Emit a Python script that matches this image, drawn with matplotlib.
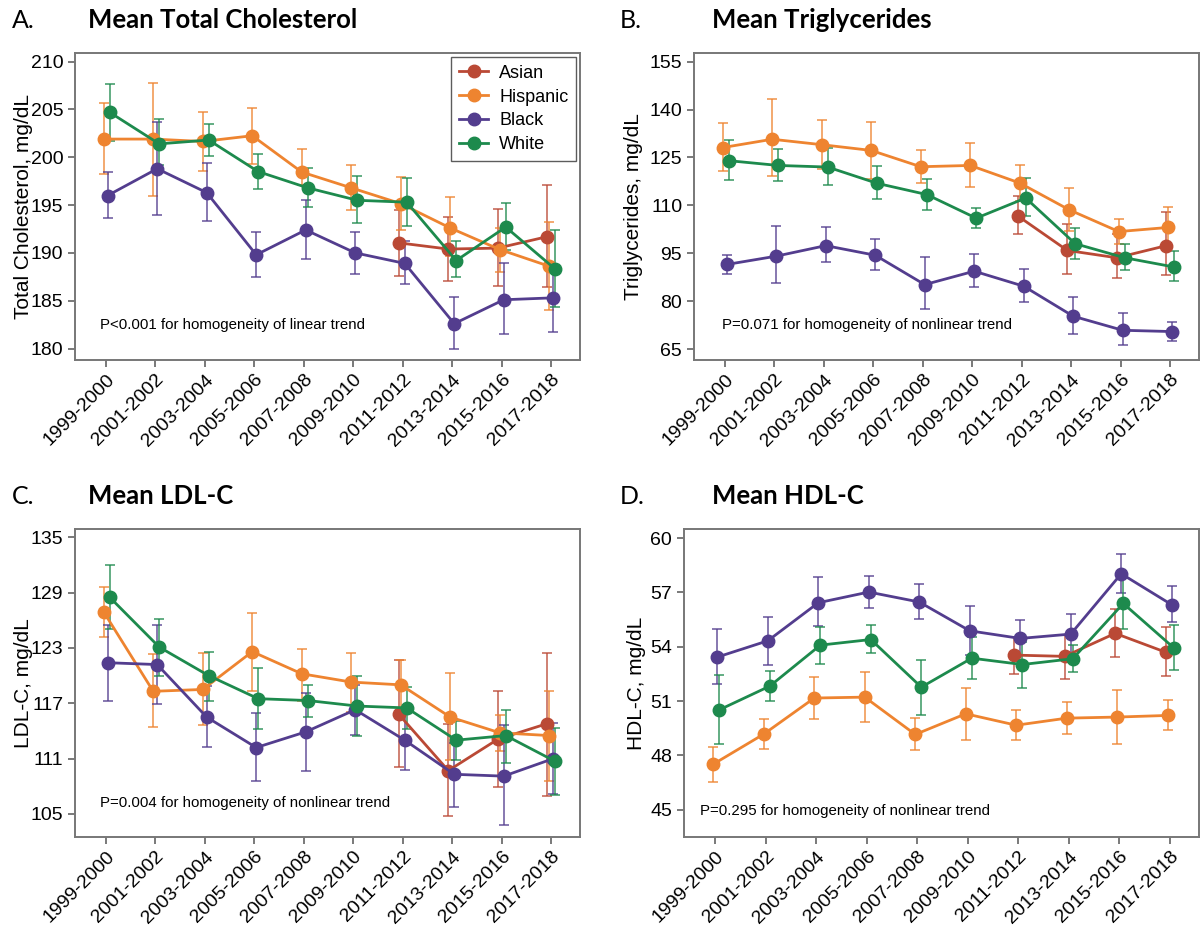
import numpy as np
import matplotlib
matplotlib.use("Agg")
import matplotlib.pyplot as plt

nan = np.nan
periods = ["1999-2000", "2001-2002", "2003-2004", "2005-2006", "2007-2008",
           "2009-2010", "2011-2012", "2013-2014", "2015-2016", "2017-2018"]
groups = ["Asian", "Hispanic", "Black", "White"]
colors = {"Asian": "#BA4935", "Hispanic": "#EE8430", "Black": "#533D8E", "White": "#1D8A4D"}
offsets = {"Asian": -0.08, "Hispanic": -0.04, "Black": 0.04, "White": 0.08}

# ---------------- A. Total cholesterol ----------------
tc_mean = {
    "Asian":    [nan]*6 + [191.05, 190.4, 190.5, 191.7],
    "Hispanic": [201.9, 201.9, 201.65, 202.25, 198.45, 196.8, 195.15, 192.6, 190.35, 188.6],
    "Black":    [196.0, 198.8, 196.3, 189.8, 192.4, 190.0, 188.9, 182.6, 185.1, 185.3],
    "White":    [204.7, 201.4, 201.8, 198.5, 196.8, 195.5, 195.3, 189.2, 192.7, 188.3],
}
tc_lo = {
    "Asian":    [nan]*6 + [187.6, 187.1, 186.5, 186.4],
    "Hispanic": [198.2, 196.0, 198.6, 199.3, 197.1, 194.5, 192.4, 189.7, 188.0, 184.0],
    "Black":    [193.6, 194.0, 193.3, 187.5, 189.4, 187.8, 186.7, 179.9, 181.5, 181.7],
    "White":    [201.7, 199.2, 200.1, 196.7, 194.8, 193.1, 192.8, 187.5, 190.3, 184.3],
}
tc_hi = {
    "Asian":    [nan]*6 + [194.5, 193.7, 194.6, 197.1],
    "Hispanic": [205.65, 207.8, 204.7, 205.2, 200.9, 199.2, 197.9, 195.8, 192.6, 193.2],
    "Black":    [198.5, 203.7, 199.4, 192.2, 195.5, 192.2, 191.2, 185.4, 188.9, 188.8],
    "White":    [207.7, 204.0, 203.5, 200.3, 198.9, 198.0, 197.8, 191.2, 195.2, 192.4],
}

# ---------------- B. Triglycerides ----------------
tg_mean = {
    "Asian":    [nan]*6 + [106.7, 95.9, 93.6, 97.4],
    "Hispanic": [128.1, 130.7, 129.0, 127.2, 122.1, 122.5, 117.0, 108.6, 101.8, 103.1],
    "Black":    [91.5, 94.1, 97.4, 94.4, 85.2, 89.4, 84.7, 75.3, 70.9, 70.5],
    "White":    [124.0, 122.5, 122.0, 116.9, 113.4, 106.0, 112.3, 98.0, 93.6, 90.7],
}
tg_lo = {
    "Asian":    [nan]*6 + [100.9, 88.6, 87.3, 88.2],
    "Hispanic": [120.7, 119.1, 121.3, 118.2, 117.1, 115.8, 111.4, 102.1, 98.0, 96.9],
    "Black":    [88.5, 85.8, 92.2, 89.7, 77.5, 84.4, 79.8, 69.8, 66.3, 67.6],
    "White":    [118.0, 117.7, 116.5, 111.9, 108.5, 102.9, 106.7, 93.3, 89.8, 86.2],
}
tg_hi = {
    "Asian":    [nan]*6 + [113.0, 104.1, 101.0, 107.9],
    "Hispanic": [135.8, 143.3, 136.7, 136.2, 127.4, 129.5, 122.7, 115.3, 105.7, 109.4],
    "Black":    [94.6, 103.6, 103.1, 99.4, 93.9, 94.7, 90.0, 81.3, 76.3, 73.6],
    "White":    [130.5, 127.6, 128.1, 122.4, 118.4, 109.3, 118.5, 102.8, 97.8, 95.7],
}

# ---------------- C. LDL-C ----------------
ldl_mean = {
    "Asian":    [nan]*6 + [115.8, 109.7, 113.1, 114.8],
    "Hispanic": [126.9, 118.3, 118.5, 122.6, 120.2, 119.3, 119.0, 115.5, 113.8, 113.5],
    "Black":    [121.4, 121.2, 115.5, 112.2, 113.9, 116.3, 113.0, 109.3, 109.1, 111.0],
    "White":    [128.5, 123.1, 120.0, 117.5, 117.3, 116.7, 116.5, 113.0, 113.5, 110.7],
}
ldl_lo = {
    "Asian":    [nan]*6 + [110.1, 104.8, 107.9, 107.0],
    "Hispanic": [124.2, 114.4, 114.6, 118.3, 117.3, 116.1, 116.2, 110.8, 111.8, 108.6],
    "Black":    [117.3, 116.9, 112.3, 108.6, 109.7, 113.6, 109.8, 105.7, 103.8, 107.2],
    "White":    [125.1, 120.0, 117.3, 114.2, 115.5, 113.4, 114.2, 110.9, 110.5, 107.1],
}
ldl_hi = {
    "Asian":    [nan]*6 + [121.7, 114.7, 118.3, 122.5],
    "Hispanic": [129.65, 122.3, 122.5, 126.8, 122.9, 122.5, 121.7, 120.3, 115.7, 118.3],
    "Black":    [125.5, 125.5, 118.9, 116.0, 118.1, 119.0, 116.1, 112.7, 114.6, 114.9],
    "White":    [132.0, 126.1, 122.6, 120.8, 119.0, 120.0, 118.8, 115.1, 116.3, 114.3],
}

# ---------------- D. HDL-C ----------------
hdl_mean = {
    "Asian":    [nan]*6 + [53.54, 53.47, 54.74, 53.70],
    "Hispanic": [47.52, 49.18, 51.17, 51.22, 49.16, 50.30, 49.67, 50.06, 50.12, 50.21],
    "Black":    [53.43, 54.33, 56.43, 57.02, 56.47, 54.88, 54.46, 54.70, 58.03, 56.32],
    "White":    [50.52, 51.83, 54.09, 54.40, 51.77, 53.37, 53.02, 53.34, 56.39, 53.94],
}
hdl_lo = {
    "Asian":    [nan]*6 + [52.49, 52.21, 53.41, 52.40],
    "Hispanic": [46.55, 48.33, 50.01, 49.84, 48.28, 48.88, 48.83, 49.16, 48.63, 49.38],
    "Black":    [51.96, 53.00, 55.12, 56.15, 55.51, 53.56, 53.52, 53.56, 56.98, 55.34],
    "White":    [48.61, 51.00, 53.04, 53.63, 50.26, 52.23, 51.75, 52.62, 54.96, 52.71],
}
hdl_hi = {
    "Asian":    [nan]*6 + [54.55, 54.64, 56.10, 55.07],
    "Hispanic": [48.48, 50.02, 52.31, 52.62, 50.06, 51.70, 50.52, 50.96, 51.61, 51.07],
    "Black":    [54.96, 55.66, 57.86, 57.88, 57.44, 56.25, 55.45, 55.80, 59.10, 57.33],
    "White":    [52.42, 52.66, 55.10, 55.21, 53.28, 54.52, 54.29, 54.07, 57.86, 55.20],
}

panels = [
    dict(letter="A.", title="Mean Total Cholesterol", ylabel="Total Cholesterol, mg/dL",
         mean=tc_mean, lo=tc_lo, hi=tc_hi, ylim=(178.8, 210.9), yticks=[180, 185, 190, 195, 200, 205, 210],
         note="P<0.001 for homogeneity of linear trend", note_xy=(0.05, 0.115),
         rect=(75, 53, 580, 360), legend=True, lab_x=-0.083, title_x=(12, 88)),
    dict(letter="B.", title="Mean Triglycerides", ylabel="Triglycerides, mg/dL",
         mean=tg_mean, lo=tg_lo, hi=tg_hi, ylim=(61.6, 157.7), yticks=[65, 80, 95, 110, 125, 140, 155],
         note="P=0.071 for homogeneity of nonlinear trend", note_xy=(0.056, 0.115),
         rect=(694, 53, 1199, 360), legend=False, lab_x=-0.1, title_x=(620, 712)),
    dict(letter="C.", title="Mean LDL-C", ylabel="LDL-C, mg/dL",
         mean=ldl_mean, lo=ldl_lo, hi=ldl_hi, ylim=(102.5, 135.9), yticks=[105, 111, 117, 123, 129, 135],
         note="P=0.004 for homogeneity of nonlinear trend", note_xy=(0.05, 0.11),
         rect=(75, 529, 580, 837), legend=False, lab_x=-0.083, title_x=(12, 88)),
    dict(letter="D.", title="Mean HDL-C", ylabel="HDL-C, mg/dL",
         mean=hdl_mean, lo=hdl_lo, hi=hdl_hi, ylim=(43.5, 60.5), yticks=[45, 48, 51, 54, 57, 60],
         note="P=0.295 for homogeneity of nonlinear trend", note_xy=(0.031, 0.085),
         rect=(684, 529, 1199, 837), legend=False, lab_x=-0.073, title_x=(620, 712)),
]

W, H = 1204, 926
fig = plt.figure(figsize=(W / 100, H / 100), dpi=100)
plt.rcParams["font.family"] = ["Liberation Sans", "DejaVu Sans"]

x = np.arange(len(periods))
for p in panels:
    l, t, r, b = p["rect"]
    ax = fig.add_axes([l / W, 1 - b / H, (r - l) / W, (b - t) / H])
    for g in groups:
        m = np.array(p["mean"][g], dtype=float)
        lo = np.array(p["lo"][g], dtype=float)
        hi = np.array(p["hi"][g], dtype=float)
        xs = x + offsets[g]
        ax.errorbar(xs, m, yerr=[m - lo, hi - m], fmt="none", ecolor=colors[g],
                    elinewidth=1.3, capsize=3.5, capthick=1.3, alpha=0.75, zorder=2)
        ax.plot(xs, m, "-o", color=colors[g], lw=2.0, ms=9, label=g, zorder=3)
    ax.set_xlim(-0.62, 9.58)
    ax.set_ylim(*p["ylim"])
    ax.set_yticks(p["yticks"])
    ax.set_yticklabels([str(v) for v in p["yticks"]])
    ax.set_xticks(x)
    ax.set_xticklabels(periods, rotation=45, ha="right", rotation_mode="anchor")
    ax.tick_params(axis="both", labelsize=14, direction="out", length=5, width=1.1,
                   color="#555555")
    ax.tick_params(axis="x", pad=3)
    for s in ax.spines.values():
        s.set_color("#777777")
        s.set_linewidth(1.4)
    ax.set_ylabel(p["ylabel"], fontsize=15)
    ax.yaxis.set_label_coords(p["lab_x"], 0.5)
    ax.text(p["note_xy"][0], p["note_xy"][1], p["note"], transform=ax.transAxes,
            fontsize=10.8, va="center", ha="left")
    if p["legend"]:
        leg = ax.legend(loc="upper right", fontsize=13, frameon=True, fancybox=False,
                        edgecolor="#333333", borderaxespad=0.2, handlelength=1.6,
                        labelspacing=0.38, borderpad=0.45, handletextpad=0.6)
        leg.get_frame().set_linewidth(1.0)
    # panel titles
    fig.text(p["title_x"][0] / W, 1 - (t - 33) / H, p["letter"], fontsize=18,
             family=["Lato", "DejaVu Sans"], va="center", ha="left")
    fig.text(p["title_x"][1] / W, 1 - (t - 33) / H, p["title"], fontsize=18.5, fontweight="bold",
             family=["Lato", "DejaVu Sans"], va="center", ha="left")

fig.savefig("out.png", dpi=100)
